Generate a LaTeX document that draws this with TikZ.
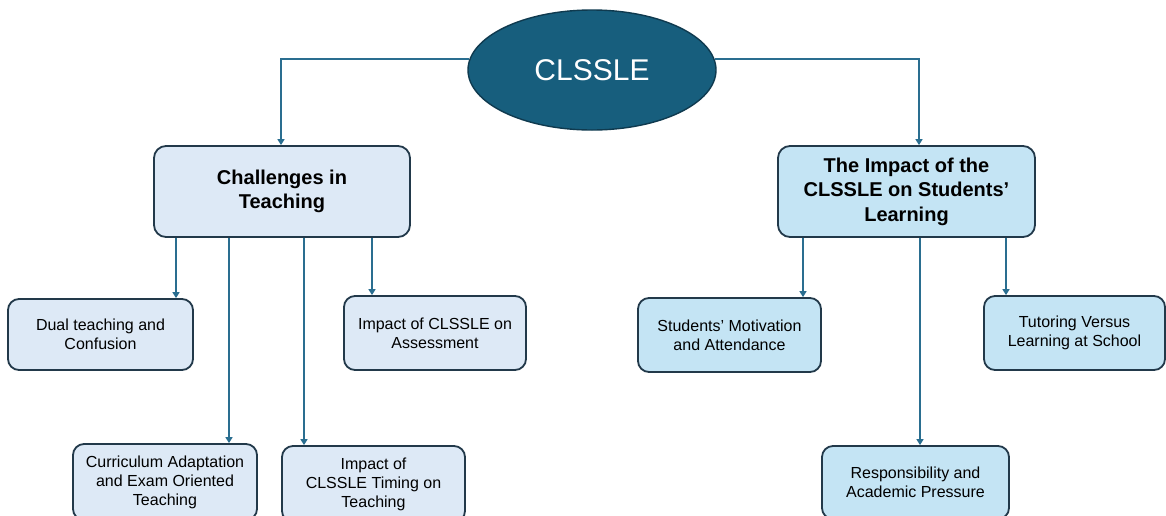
\documentclass[tikz,border=0pt]{standalone}
\usepackage{fontspec}
\setmainfont{Liberation Sans}
\usetikzlibrary{arrows.meta,shapes.geometric}
\definecolor{rootfill}{HTML}{175E7D}
\definecolor{rootdraw}{HTML}{0F3A4F}
\definecolor{linec}{HTML}{2A6E90}
\definecolor{leftfill}{HTML}{DDE9F6}
\definecolor{rightfill}{HTML}{C4E4F4}
\definecolor{boxdraw}{HTML}{22394A}
\tikzset{
  rootnode/.style={ellipse, draw=rootdraw, line width=1.4pt, fill=rootfill, text=white,
    minimum width=248pt, minimum height=120pt, inner sep=0pt,
    font=\fontsize{30}{36}\selectfont},
  headbox/.style={rectangle, rounded corners=12pt, draw=boxdraw, line width=1.8pt,
    inner sep=0pt, align=center, font=\fontsize{20}{24.5}\selectfont\bfseries},
  leafbox/.style={rectangle, rounded corners=11pt, draw=boxdraw, line width=1.8pt,
    inner sep=0pt, align=center, font=\fontsize{16}{19}\selectfont},
  arr/.style={draw=linec, line width=1.8pt, -{Triangle[width=7pt,length=6pt]}}
}
\begin{document}
\begin{tikzpicture}[x=1pt,y=-1pt]
\useasboundingbox (0,0) rectangle (1166,515);
\clip (0,0) rectangle (1166,515);
\fill[white] (0,0) rectangle (1166,515);

\node[rootnode] (root) at (592,70) {CLSSLE};

\node[headbox, fill=leftfill, minimum width=256pt, minimum height=91pt] (chal) at (282,191.5) {Challenges in\\Teaching};
\node[headbox, fill=rightfill, minimum width=257pt, minimum height=91pt] (imp) at (906.5,191.5) {The Impact of the\\CLSSLE on Students'\\Learning};

\node[leafbox, fill=leftfill, minimum width=185pt, minimum height=71pt] (dual) at (100.5,334.5) {Dual teaching and\\Confusion};
\node[leafbox, fill=leftfill, minimum width=182pt, minimum height=74pt] (assess) at (435,333) {Impact of CLSSLE on\\Assessment};
\node[leafbox, fill=leftfill, minimum width=184pt, minimum height=76pt] (curr) at (165,482) {Curriculum Adaptation\\and Exam Oriented\\Teaching};
\node[leafbox, fill=leftfill, minimum width=183pt, minimum height=76pt] (timing) at (373.5,484) {Impact of\\CLSSLE Timing on\\Teaching};

\node[leafbox, fill=rightfill, minimum width=183pt, minimum height=74pt] (motiv) at (729.5,335) {Students' Motivation\\and Attendance};
\node[leafbox, fill=rightfill, minimum width=181pt, minimum height=74pt] (tutor) at (1074.5,333) {Tutoring Versus\\Learning at School};
\node[leafbox, fill=rightfill, minimum width=187pt, minimum height=73pt] (resp) at (915.5,482.5) {Responsibility and\\Academic Pressure};

\coordinate (xL) at (281,0);
\coordinate (xR) at (919,0);
\coordinate (x1) at (176,0);
\coordinate (x2) at (229,0);
\coordinate (x3) at (304,0);
\coordinate (x4) at (372,0);
\coordinate (x5) at (803,0);
\coordinate (x6) at (920,0);
\coordinate (x7) at (1006,0);

\draw[arr] (root.175) -| (chal.north -| xL);
\draw[arr] (root.5) -| (imp.north -| xR);

\draw[arr] (chal.south -| x1) -- (dual.north -| x1);
\draw[arr] (chal.south -| x2) -- (curr.north -| x2);
\draw[arr] (chal.south -| x3) -- (timing.north -| x3);
\draw[arr] (chal.south -| x4) -- (assess.north -| x4);

\draw[arr] (imp.south -| x5) -- (motiv.north -| x5);
\draw[arr] (imp.south -| x6) -- (resp.north -| x6);
\draw[arr] (imp.south -| x7) -- (tutor.north -| x7);
\end{tikzpicture}
\end{document}
